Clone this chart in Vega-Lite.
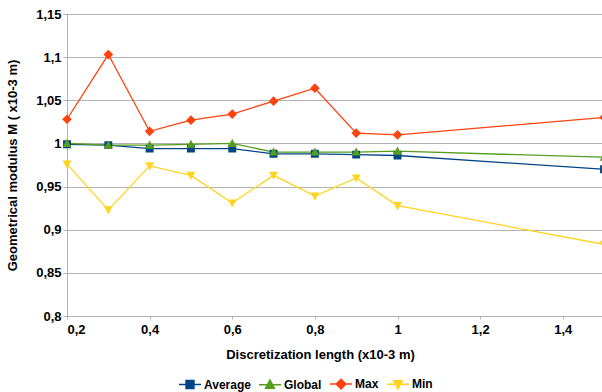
{
  "$schema": "https://vega.github.io/schema/vega-lite/v6.json",
  "width": 535,
  "height": 302,
  "autosize": {"type": "none"},
  "padding": {"left": 67, "top": 14, "right": 0, "bottom": 76},
  "background": "#ffffff",
  "config": {
    "view": {"stroke": null},
    "font": "Liberation Sans",
    "axis": {
      "labelFont": "Liberation Sans",
      "labelFontWeight": "bold",
      "labelFontSize": 13,
      "labelColor": "#000000",
      "titleFont": "Liberation Sans",
      "titleFontWeight": "bold",
      "titleFontSize": 13,
      "titleColor": "#000000",
      "domainColor": "#b3b3b3",
      "tickColor": "#b3b3b3",
      "gridColor": "#b3b3b3",
      "domainWidth": 1,
      "gridWidth": 1
    },
    "legend": {
      "labelFont": "Liberation Sans",
      "labelFontWeight": "bold",
      "labelFontSize": 12,
      "labelColor": "#000000"
    }
  },
  "data": {
    "values": [
      {"x": 0.2, "series": "Average", "value": 0.999},
      {"x": 0.3, "series": "Average", "value": 0.998},
      {"x": 0.4, "series": "Average", "value": 0.994},
      {"x": 0.5, "series": "Average", "value": 0.994},
      {"x": 0.6, "series": "Average", "value": 0.994},
      {"x": 0.7, "series": "Average", "value": 0.988},
      {"x": 0.8, "series": "Average", "value": 0.988},
      {"x": 0.9, "series": "Average", "value": 0.987},
      {"x": 1.0, "series": "Average", "value": 0.986},
      {"x": 1.5, "series": "Average", "value": 0.970},
      {"x": 0.2, "series": "Global", "value": 1.000},
      {"x": 0.3, "series": "Global", "value": 0.998},
      {"x": 0.4, "series": "Global", "value": 0.998},
      {"x": 0.5, "series": "Global", "value": 0.999},
      {"x": 0.6, "series": "Global", "value": 1.000},
      {"x": 0.7, "series": "Global", "value": 0.990},
      {"x": 0.8, "series": "Global", "value": 0.990},
      {"x": 0.9, "series": "Global", "value": 0.990},
      {"x": 1.0, "series": "Global", "value": 0.991},
      {"x": 1.5, "series": "Global", "value": 0.984},
      {"x": 0.2, "series": "Max", "value": 1.028},
      {"x": 0.3, "series": "Max", "value": 1.103},
      {"x": 0.4, "series": "Max", "value": 1.014},
      {"x": 0.5, "series": "Max", "value": 1.027},
      {"x": 0.6, "series": "Max", "value": 1.034},
      {"x": 0.7, "series": "Max", "value": 1.049},
      {"x": 0.8, "series": "Max", "value": 1.064},
      {"x": 0.9, "series": "Max", "value": 1.012},
      {"x": 1.0, "series": "Max", "value": 1.010},
      {"x": 1.5, "series": "Max", "value": 1.030},
      {"x": 0.2, "series": "Min", "value": 0.976},
      {"x": 0.3, "series": "Min", "value": 0.923},
      {"x": 0.4, "series": "Min", "value": 0.974},
      {"x": 0.5, "series": "Min", "value": 0.963},
      {"x": 0.6, "series": "Min", "value": 0.931},
      {"x": 0.7, "series": "Min", "value": 0.963},
      {"x": 0.8, "series": "Min", "value": 0.939},
      {"x": 0.9, "series": "Min", "value": 0.960},
      {"x": 1.0, "series": "Min", "value": 0.928},
      {"x": 1.5, "series": "Min", "value": 0.883}
    ]
  },
  "encoding": {
    "x": {
      "field": "x",
      "type": "quantitative",
      "scale": {"domain": [0.2, 1.495], "nice": false, "zero": false},
      "axis": {
        "values": [0.2, 0.4, 0.6, 0.8, 1.0, 1.2, 1.4],
        "labelExpr": "replace(format(datum.value, '~r'), '.', ',')",
        "grid": false,
        "tickSize": 3,
        "labelPadding": 4,
        "title": "Discretization length (x10-3 m)",
        "titlePadding": 12,
        "titleX": 253
      }
    },
    "y": {
      "field": "value",
      "type": "quantitative",
      "scale": {"domain": [0.8, 1.15], "nice": false, "zero": false},
      "axis": {
        "values": [0.8, 0.85, 0.9, 0.95, 1.0, 1.05, 1.1, 1.15],
        "labelExpr": "replace(format(datum.value, '~r'), '.', ',')",
        "grid": true,
        "tickSize": 4,
        "labelPadding": 2,
        "title": "Geometrical modulus M ( x10-3 m)",
        "titlePadding": 16
      }
    },
    "stroke": {
      "field": "series",
      "type": "nominal",
      "scale": {"domain": ["Average", "Global", "Max", "Min"], "range": ["#004586", "#579d1c", "#ff420e", "#ffd320"]},
      "legend": {
        "title": null,
        "orient": "none",
        "direction": "horizontal",
        "legendX": 111,
        "legendY": 358,
        "symbolSize": 484,
        "symbolStrokeWidth": 1.5,
        "labelOffset": 2,
        "columnPadding": 5
      }
    }
  },
  "layer": [
    {
      "mark": {"type": "line", "strokeWidth": 1.3, "clip": false}
    },
    {
      "mark": {"type": "point", "filled": true, "size": 484, "opacity": 1, "strokeWidth": 0, "clip": false},
      "encoding": {
        "fill": {
          "field": "series",
          "type": "nominal",
          "scale": {"domain": ["Average", "Global", "Max", "Min"], "range": ["#004586", "#579d1c", "#ff420e", "#ffd320"]},
          "legend": {
            "title": null,
            "orient": "none",
            "direction": "horizontal",
            "legendX": 111,
            "legendY": 358,
            "symbolSize": 484,
            "symbolStrokeWidth": 1.5,
            "labelOffset": 2,
            "columnPadding": 5
          }
        },
        "shape": {
          "field": "series",
          "type": "nominal",
          "scale": {
            "domain": ["Average", "Global", "Max", "Min"],
            "range": [
              "M-1,0H1M-0.36,-0.36H0.36V0.36H-0.36Z",
              "M-1,0H1M0,-0.42L0.4,0.32H-0.4Z",
              "M-1,0H1M0,-0.44L0.44,0L0,0.44L-0.44,0Z",
              "M-1,0H1M0,0.42L0.4,-0.32H-0.4Z"
            ]
          },
          "legend": {
            "title": null,
            "orient": "none",
            "direction": "horizontal",
            "legendX": 111,
            "legendY": 358,
            "symbolSize": 484,
            "symbolStrokeWidth": 1.5,
            "labelOffset": 2,
            "columnPadding": 5
          }
        }
      }
    }
  ]
}
